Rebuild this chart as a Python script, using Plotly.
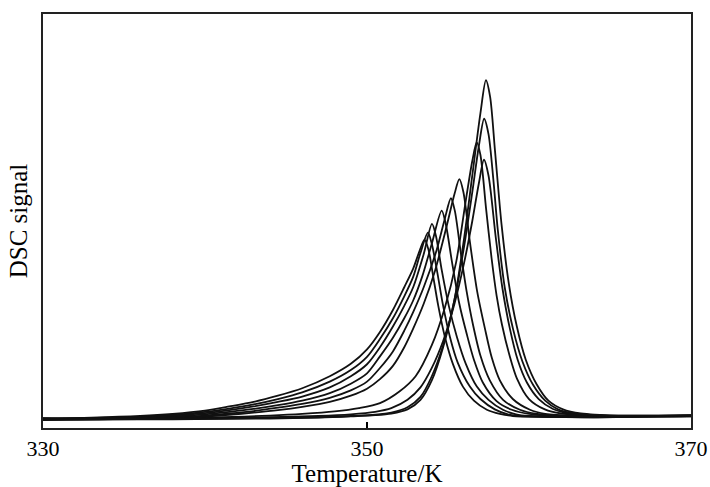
import plotly.graph_objects as go

# ---- data (Temperature in K, DSC signal in arbitrary units) ----
temp_1 = [330, 333, 336, 338, 340, 341.5, 343, 344.5, 346, 347.7, 349, 350, 350.8, 351.6, 352.3, 352.85, 353.2, 353.55, 353.8, 354.07, 354.4, 354.81, 355.3, 355.92, 356.6, 357.4, 358.2, 359, 361, 364, 367, 370]
dsc_1 = [2.3, 2.5, 2.9, 3.4, 4.2, 5.2, 6.3, 7.8, 9.6, 12.5, 15.5, 19.0, 23.2, 28.5, 34.0, 38.5, 42.3, 45.5, 43.0, 37.0, 29.5, 22, 15.5, 10, 6.6, 4.4, 3.4, 2.9, 2.7, 2.6, 2.7, 2.8]

temp_2 = [330, 333, 336, 338, 340, 341.5, 343, 344.5, 346, 347.7, 349, 350, 350.8, 351.6, 352.3, 352.85, 353.3, 353.76, 354.0, 354.32, 354.7, 355.12, 355.6, 356.35, 357.0, 357.89, 358.7, 359.5, 361.5, 364, 367, 370]
dsc_2 = [2.1, 2.4, 2.7, 3.2, 3.9, 4.7, 5.7, 7.0, 8.6, 11.2, 14.0, 17.2, 21.5, 26.5, 31.8, 36.5, 42.3, 47.2, 44.5, 38, 29.5, 22, 15.8, 10, 7.0, 4.5, 3.3, 2.9, 2.7, 2.6, 2.8, 2.9]

temp_3 = [330, 333, 336, 338, 340, 341.5, 343, 344.5, 346, 347.7, 349, 350, 350.8, 351.6, 352.3, 352.85, 353.5, 354.01, 354.25, 354.62, 355.05, 355.55, 356.1, 356.78, 357.5, 358.39, 359.2, 360, 362, 365, 368, 370]
dsc_3 = [2.2, 2.3, 2.6, 3.0, 3.6, 4.3, 5.2, 6.3, 7.6, 9.8, 12.5, 15.4, 19.5, 24.5, 29.5, 34.0, 42.0, 49.3, 46.5, 38, 29.5, 22, 15.5, 10, 6.8, 4.4, 3.3, 2.9, 2.7, 2.7, 2.8, 2.8]

temp_4 = [330, 333, 336, 338, 340, 341.5, 343, 344.5, 346, 347.7, 349, 350, 350.8, 351.6, 352.3, 352.85, 353.4, 354.0, 354.61, 354.85, 355.25, 355.7, 356.17, 356.6, 357.15, 358.0, 358.94, 360, 361.5, 364, 367, 370]
dsc_4 = [2.4, 2.3, 2.5, 2.8, 3.3, 3.9, 4.6, 5.5, 6.6, 8.4, 10.7, 13.2, 17.3, 21.8, 26.5, 30.8, 36.5, 44.5, 52.5, 49.5, 40, 30, 22.5, 16.5, 11, 6.5, 4.4, 3.4, 2.9, 2.8, 2.8, 2.9]

temp_5 = [330, 333, 336, 338, 340, 341.5, 343, 344.5, 346, 347.7, 349, 350, 350.8, 351.6, 352.3, 352.85, 353.5, 354.3, 354.8, 355.18, 355.42, 355.8, 356.15, 356.54, 357.0, 357.58, 358.4, 359.44, 360.5, 362, 365, 370]
dsc_5 = [2.2, 2.2, 2.4, 2.6, 3.0, 3.5, 4.1, 4.9, 5.8, 7.3, 9.1, 11.2, 14.5, 18.5, 23.5, 28.0, 34.0, 43.0, 50.5, 55.5, 52.5, 42, 33, 25, 17.5, 11.5, 6.8, 4.4, 3.4, 2.9, 2.8, 2.9]

temp_6 = [330, 333, 336, 338, 340, 341.5, 343, 344.5, 346, 347.7, 349, 350, 350.8, 351.6, 352.3, 352.85, 353.5, 354.2, 354.9, 355.4, 355.7, 355.95, 356.35, 356.8, 357.28, 357.7, 358.2, 359, 360.06, 361, 363, 366, 370]
dsc_6 = [2.3, 2.1, 2.3, 2.5, 2.8, 3.2, 3.7, 4.3, 5.1, 6.3, 7.8, 9.5, 11.8, 15.0, 19.5, 24.0, 30.0, 38.0, 48.5, 56.5, 60.1, 57.0, 45, 33, 24, 17, 11.5, 7.0, 4.4, 3.4, 2.9, 2.8, 2.9]

temp_7 = [330, 334, 338, 341, 344, 346, 348, 349.5, 350.8, 352, 353, 354, 354.8, 355.5, 356.1, 356.5, 356.77, 357.0, 357.35, 357.69, 358.0, 358.33, 358.8, 359.25, 360, 360.98, 362, 364, 367, 370]
dsc_7 = [2.2, 2.3, 2.4, 2.6, 3.0, 3.4, 4.0, 4.8, 6.0, 8.8, 12.5, 20, 29, 40, 55, 64.5, 69, 66, 53, 41, 32, 25, 17.5, 12, 7.0, 4.5, 3.5, 3.0, 2.9, 2.9]

temp_8 = [330, 334, 338, 341, 344, 347, 349, 350.5, 351.5, 352.5, 353.3, 354, 354.7, 355.4, 356, 356.5, 356.9, 357.22, 357.5, 357.95, 358.35, 358.82, 359.3, 359.87, 360.6, 361.48, 362.5, 364.5, 367, 370]
dsc_8 = [2.0, 2.2, 2.3, 2.4, 2.6, 2.9, 3.3, 3.9, 4.8, 6.8, 9.8, 14.5, 21, 30, 40, 50, 59, 64.8, 61, 46, 34, 24, 16.5, 11, 7.0, 4.6, 3.5, 3.0, 2.9, 3.0]

temp_9 = [330, 334, 338, 341, 344, 347, 349, 350.5, 351.5, 352.5, 353.3, 354, 354.7, 355.4, 356, 356.5, 356.9, 357.23, 357.5, 357.8, 358.07, 358.5, 359.01, 359.6, 360.24, 361, 361.79, 362.8, 365, 368, 370]
dsc_9 = [1.9, 2.1, 2.2, 2.3, 2.4, 2.6, 2.9, 3.2, 3.7, 5.0, 7.5, 12.5, 20, 31, 44, 57, 68, 74.7, 71, 60, 48, 34, 24, 16, 10.5, 6.6, 4.5, 3.5, 3.0, 3.0, 3.1]

temp_10 = [330, 334, 338, 341, 344, 347, 349, 350.5, 351.5, 352.5, 353.3, 354, 354.7, 355.4, 356, 356.5, 357.0, 357.34, 357.6, 357.9, 358.31, 358.75, 359.25, 359.8, 360.48, 361.2, 362.1, 363.2, 365.5, 368, 370]
dsc_10 = [2.0, 2.1, 2.1, 2.2, 2.3, 2.5, 2.8, 3.1, 3.5, 4.5, 6.8, 11.5, 19.5, 31, 46, 61, 76, 84, 80, 67, 49, 35, 24.5, 16.5, 10.5, 6.6, 4.5, 3.5, 3.0, 3.0, 3.1]

x_ticks = [330, 350, 370]
x_title = "Temperature/K"
y_title = "DSC signal"

series = [
    (temp_1, dsc_1), (temp_2, dsc_2), (temp_3, dsc_3), (temp_4, dsc_4), (temp_5, dsc_5),
    (temp_6, dsc_6), (temp_7, dsc_7), (temp_8, dsc_8), (temp_9, dsc_9), (temp_10, dsc_10),
]

fig = go.Figure()
for t, d in series:
    fig.add_trace(go.Scatter(
        x=t, y=d, mode="lines",
        line=dict(color="#111111", width=1.8, shape="spline", smoothing=0.8),
        showlegend=False, hoverinfo="skip",
    ))

font_family = "Liberation Serif, Times New Roman, serif"
fig.update_layout(
    width=710, height=487,
    margin=dict(l=43, r=19, t=14, b=59, autoexpand=False),
    paper_bgcolor="white", plot_bgcolor="white",
    font=dict(family=font_family, color="black", size=22),
)
fig.update_xaxes(
    range=[330, 370], tickvals=x_ticks, ticktext=[str(v) for v in x_ticks],
    ticks="inside", ticklen=6, tickwidth=1.5, tickcolor="black",
    showline=True, linecolor="#222222", linewidth=1.8, mirror=True,
    showgrid=False, zeroline=False,
    tickfont=dict(family=font_family, size=22, color="black"),
    title=dict(text=x_title, font=dict(family=font_family, size=25, color="black"), standoff=4),
)
fig.update_yaxes(
    range=[0, 100], showticklabels=False, ticks="",
    showline=True, linecolor="#222222", linewidth=1.8, mirror=True,
    showgrid=False, zeroline=False,
    title=dict(text=y_title, font=dict(family=font_family, size=25, color="black"), standoff=6),
)

fig.write_html("out.html")
